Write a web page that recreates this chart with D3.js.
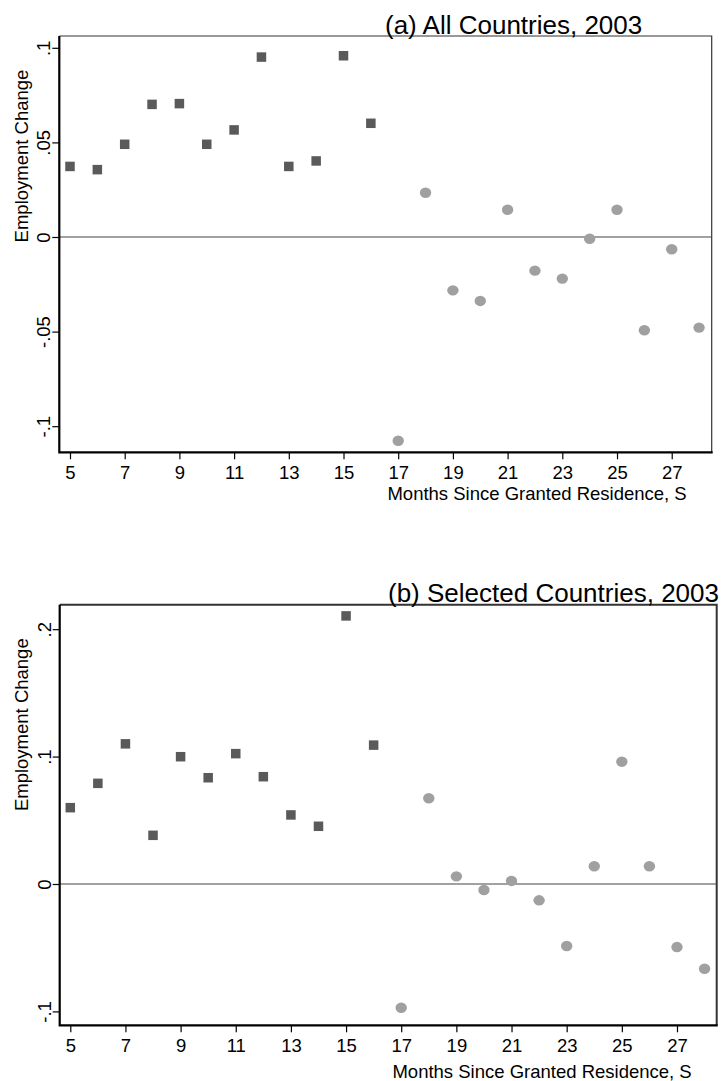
<!DOCTYPE html>
<html>
<head>
<meta charset="utf-8">
<script src="https://cdn.jsdelivr.net/npm/d3@7"></script>
<style>
  html, body { margin: 0; padding: 0; background: #fff; }
  svg { display: block; font-family: "Liberation Sans", Arial, Helvetica, sans-serif; }
</style>
</head>
<body>
<svg id="chart" width="726" height="1081"></svg>
<script>
// ---- data ----
const squareMonths = [5, 6, 7, 8, 9, 10, 11, 12, 13, 14, 15, 16];
const circleMonths = [17, 18, 19, 20, 21, 22, 23, 24, 25, 26, 27, 28];
const xTickValues = [5, 7, 9, 11, 13, 15, 17, 19, 21, 23, 25, 27];

const allSquares = [0.0373, 0.0356, 0.049, 0.0701, 0.0705, 0.049, 0.0566, 0.0951, 0.0373, 0.0402, 0.0958, 0.0601];
const allCircles = [-0.1077, 0.0234, -0.0282, -0.0338, 0.0144, -0.0178, -0.022, -0.0009, 0.0144, -0.0493, -0.0065, -0.0479];
const allYTicks = [-0.1, -0.05, 0, 0.05, 0.1];

const selSquares = [0.0599, 0.079, 0.110, 0.0382, 0.0999, 0.0834, 0.1023, 0.0842, 0.0542, 0.0453, 0.2104, 0.109];
const selCircles = [-0.0971, 0.0673, 0.006, -0.0047, 0.0024, -0.0128, -0.0487, 0.0139, 0.096, 0.0139, -0.0495, -0.0665];
const selYTicks = [-0.1, 0, 0.1, 0.2];

const titles = ["(a) All Countries, 2003", "(b) Selected Countries, 2003"];
const xTitle = "Months Since Granted Residence, S";
const yTitle = "Employment Change";

// ---- layout ----
const svg = d3.select("#chart");
const fmt = d => d === 0 ? "0" : String(d).replace("0.", ".");

const panels = [
  { title: titles[0], sq: allSquares, ci: allCircles, yTicks: allYTicks,
    left: 59.3, right: 711.7, top: 36, bottom: 452.3,
    xDom: [4.609, 28.462], yDom: [-0.1138, 0.10624],
    titleX: 385, titleY: 33.5, xTitleEnd: 686.7, xTitleY: 499.5,
    sideStroke: 1.2 },
  { title: titles[1], sq: selSquares, ci: selCircles, yTicks: selYTicks,
    left: 59.7, right: 716.7, top: 604.7, bottom: 1025.3,
    xDom: [4.616, 28.44], yDom: [-0.1109, 0.2192],
    titleX: 388, titleY: 601.5, xTitleEnd: 691.7, xTitleY: 1077.5,
    sideStroke: 2 }
];

panels.forEach(p => {
  const x = d3.scaleLinear().domain(p.xDom).range([p.left, p.right]);
  const y = d3.scaleLinear().domain(p.yDom).range([p.bottom, p.top]);
  const g = svg.append("g");

  // top & right frame
  g.append("path")
    .attr("d", `M${p.left},${p.top}H${p.right}V${p.bottom}`)
    .attr("fill", "none").attr("stroke", "#333").attr("stroke-width", p.sideStroke);

  // zero line
  g.append("line")
    .attr("x1", p.left).attr("x2", p.right)
    .attr("y1", y(0)).attr("y2", y(0))
    .attr("stroke", "#444").attr("stroke-width", 1.2);

  // y axis
  const ya = g.append("g").attr("transform", `translate(${p.left},0)`)
    .call(d3.axisLeft(y).tickValues(p.yTicks).tickFormat(fmt).tickSize(7).tickSizeOuter(0));
  ya.select(".domain").remove();
  ya.selectAll(".tick line").attr("stroke", "#000").attr("stroke-width", 1.2);
  ya.selectAll(".tick text")
    .attr("transform", "rotate(-90)")
    .attr("x", 0).attr("y", -9).attr("dy", 0)
    .attr("text-anchor", "middle")
    .attr("fill", "#000")
    .style("font-size", "18.5px")
    .style("font-family", "'Liberation Sans', Arial, sans-serif");

  // x axis
  const xa = g.append("g").attr("transform", `translate(0,${p.bottom})`)
    .call(d3.axisBottom(x).tickValues(xTickValues).tickSize(7).tickSizeOuter(0));
  xa.select(".domain").remove();
  xa.selectAll(".tick line").attr("stroke", "#000").attr("stroke-width", 1.2);
  xa.selectAll(".tick text")
    .attr("y", 27).attr("dy", 0)
    .attr("fill", "#000")
    .style("font-size", "18.5px")
    .style("font-family", "'Liberation Sans', Arial, sans-serif");

  // left and bottom axis lines
  g.append("path")
    .attr("d", `M${p.left},${p.top}V${p.bottom}H${p.right + 1}`)
    .attr("fill", "none").attr("stroke", "#000").attr("stroke-width", 2.2);

  // markers
  g.selectAll("rect.sq").data(p.sq).enter().append("rect")
    .attr("class", "sq")
    .attr("x", (d, i) => x(squareMonths[i]) - 4.75)
    .attr("y", d => y(d) - 4.75)
    .attr("width", 9.5).attr("height", 9.5)
    .attr("fill", "#5a5a5a");

  g.selectAll("ellipse.ci").data(p.ci).enter().append("ellipse")
    .attr("class", "ci")
    .attr("cx", (d, i) => x(circleMonths[i]))
    .attr("cy", d => y(d))
    .attr("rx", 5.7).attr("ry", 5.2)
    .attr("fill", "#a0a0a0");

  // titles
  g.append("text")
    .attr("x", p.titleX).attr("y", p.titleY)
    .attr("font-size", 26).attr("fill", "#000")
    .text(p.title);

  g.append("text")
    .attr("x", p.xTitleEnd).attr("y", p.xTitleY)
    .attr("text-anchor", "end")
    .attr("font-size", 18.5).attr("fill", "#000")
    .text(xTitle);

  g.append("text")
    .attr("transform", `translate(28,${p.top + 120}) rotate(-90)`)
    .attr("text-anchor", "middle")
    .attr("font-size", 18.5).attr("fill", "#000")
    .text(yTitle);
});
</script>
</body>
</html>
